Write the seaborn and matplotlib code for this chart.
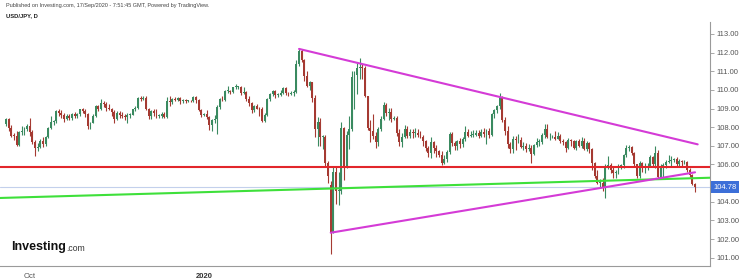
import numpy as np
import pandas as pd
import matplotlib
matplotlib.use("Agg")
import matplotlib.pyplot as plt
import seaborn as sns

# ---------------- data (USD/JPY daily) ----------------
start_date = "2019-09-18"
end_date = "2020-09-17"

opens = [
    108.15,108.43,107.94,107.55,107.53,107.05,107.75,107.80,107.90,
    108.05,107.75,107.18,106.90,106.95,107.25,107.08,107.48,107.95,108.30,108.35,108.85,108.75,108.65,108.45,108.62,108.50,108.70,108.60,108.70,108.95,108.85,108.70,
    108.05,108.20,108.60,109.15,108.95,109.30,109.25,109.05,109.00,108.80,108.45,108.75,108.65,108.60,108.55,108.65,108.68,108.95,109.05,109.55,109.50,
    109.55,109.00,108.60,108.85,108.75,108.60,108.60,108.70,108.55,109.40,109.35,109.50,109.45,109.55,109.40,109.45,109.40,109.40,109.38,109.60,109.45,108.90,
    108.65,108.70,108.55,108.10,108.40,108.45,109.10,109.50,109.45,109.95,109.95,109.90,110.15,110.15,110.15,109.85,109.90,109.50,109.30,108.90,109.15,109.00,108.95,
    108.35,108.65,109.50,109.80,109.95,109.75,109.75,109.85,110.10,109.85,109.78,109.85,109.90,111.40,112.10,111.60,110.75,110.20,110.40,109.55,
    107.90,108.30,107.50,107.50,106.10,104.90,102.35,105.60,104.60,104.60,107.95,105.85,107.60,107.90,110.70,110.80,111.20,111.25,111.20,109.65,107.95,107.80,
    107.55,107.20,107.90,108.45,109.20,108.75,108.80,108.45,108.50,107.70,107.20,107.50,107.90,107.55,107.75,107.70,107.70,107.60,107.50,107.25,106.90,106.60,
    107.20,106.90,106.75,106.50,106.10,106.30,106.65,107.65,107.15,107.00,107.25,107.10,107.35,107.75,107.55,107.60,107.60,107.70,107.55,107.75,107.65,
    107.80,107.60,108.70,108.90,109.15,109.60,108.40,107.80,107.10,106.85,107.35,107.30,107.30,106.95,107.00,106.85,106.90,106.55,107.05,107.20,107.20,107.60,
    107.90,107.45,107.50,107.50,107.35,107.55,107.25,107.20,106.90,107.30,107.25,106.90,107.25,107.00,107.25,106.85,107.15,106.85,106.10,105.40,105.00,105.00,104.75,
    105.85,105.95,105.70,105.55,105.55,105.90,105.95,106.50,106.90,106.95,106.60,106.00,105.40,106.10,105.80,105.80,105.90,106.40,106.00,106.60,105.35,
    105.90,105.95,106.15,106.20,106.25,106.30,106.00,106.20,106.15,106.15,105.70,105.45,104.95,
]
highs = [
    108.48,108.48,108.10,107.70,107.80,107.80,108.05,108.00,108.15,
    108.47,107.85,107.30,107.15,107.35,107.50,107.55,108.00,108.60,108.40,108.90,108.95,108.90,108.75,108.70,108.70,108.75,108.80,108.75,109.00,109.05,108.95,108.75,
    108.30,108.70,109.20,109.20,109.50,109.40,109.35,109.25,109.05,108.90,108.85,108.85,108.80,108.70,108.75,108.75,109.00,109.15,109.60,109.65,109.70,
    109.70,109.05,108.90,108.95,108.95,108.70,108.80,108.80,109.60,109.70,109.55,109.60,109.60,109.60,109.50,109.50,109.45,109.45,109.70,109.65,109.50,108.95,
    108.75,108.90,108.60,108.45,108.65,109.20,109.55,109.70,110.00,110.20,110.00,110.15,110.30,110.20,110.20,110.15,109.95,109.65,109.35,109.20,109.25,109.10,109.10,
    108.75,109.55,109.85,110.00,110.00,109.85,110.00,110.15,110.15,109.90,109.95,110.00,111.60,112.20,112.20,111.65,111.00,110.50,110.45,109.75,
    108.55,108.50,107.60,107.60,106.20,105.10,105.90,105.90,105.60,108.30,108.00,107.80,108.60,111.00,111.00,111.50,111.70,111.40,111.30,109.70,108.40,108.70,
    107.75,108.00,108.60,109.35,109.30,109.05,109.05,108.60,108.60,107.90,107.70,108.10,108.05,107.90,107.90,107.95,107.90,107.80,107.60,107.30,107.00,107.50,
    107.25,107.05,106.80,106.70,106.50,106.80,107.75,107.75,107.25,107.30,107.40,107.50,108.05,107.90,107.80,107.85,107.85,107.85,107.90,107.95,107.90,
    107.95,108.75,108.95,109.20,109.85,109.65,108.55,108.05,107.20,107.55,107.55,107.65,107.50,107.20,107.15,107.10,107.05,107.10,107.40,107.35,107.70,108.15,
    108.15,107.70,107.60,107.80,107.75,107.65,107.35,107.25,107.40,107.35,107.30,107.30,107.35,107.45,107.40,107.25,107.20,106.90,106.15,105.70,105.20,105.30,106.00,
    106.45,106.10,105.85,105.70,106.05,106.05,106.55,107.05,107.05,107.00,106.65,106.05,106.20,106.15,106.10,106.10,106.50,106.45,107.00,106.75,106.00,
    106.10,106.25,106.50,106.45,106.35,106.40,106.30,106.25,106.25,106.20,105.80,105.50,105.00,
]
lows = [
    108.05,107.80,107.50,107.30,107.00,107.00,107.60,107.60,107.80,
    107.55,107.10,106.48,106.70,106.90,106.95,107.00,107.40,107.90,108.10,108.25,108.60,108.50,108.30,108.40,108.40,108.40,108.50,108.50,108.60,108.75,108.55,107.90,
    107.90,108.20,108.55,108.85,108.90,109.10,108.85,108.90,108.60,108.25,108.40,108.50,108.50,108.40,108.25,108.50,108.65,108.85,109.00,109.40,109.45,
    108.90,108.45,108.45,108.60,108.50,108.50,108.50,108.50,108.50,109.15,109.25,109.40,109.40,109.25,109.30,109.30,109.35,109.35,109.35,109.30,108.85,108.55,
    108.60,108.45,107.85,107.80,108.25,107.65,109.00,109.40,109.40,109.85,109.80,109.85,110.05,110.05,109.75,109.80,109.40,109.15,108.75,108.80,108.95,108.60,108.30,
    108.30,108.60,109.40,109.70,109.55,109.60,109.70,109.80,109.75,109.70,109.75,109.70,109.85,111.30,111.50,110.50,110.15,110.00,109.35,107.50,
    107.00,107.00,106.85,105.90,105.00,101.18,102.30,103.90,103.80,104.40,105.15,105.80,106.85,107.80,109.00,109.80,110.60,110.60,109.60,107.85,107.20,107.35,
    106.90,107.00,107.80,108.40,108.60,108.40,108.30,108.40,107.55,107.00,106.95,107.40,107.40,107.40,107.40,107.50,107.45,107.40,107.00,106.70,106.40,106.35,
    106.60,106.40,106.40,105.98,106.05,106.15,106.55,107.00,106.75,106.80,106.90,106.95,107.25,107.50,107.45,107.45,107.55,107.40,107.50,107.50,107.10,
    107.40,107.55,108.50,108.75,109.00,108.30,107.60,106.90,106.60,106.60,106.75,107.15,106.90,106.80,106.65,106.70,106.10,106.50,106.95,107.00,107.10,107.40,
    107.40,107.30,107.40,107.30,107.35,107.15,107.05,106.65,106.85,107.00,106.85,106.80,106.95,106.90,106.80,106.70,106.60,105.70,105.30,104.95,104.75,104.60,104.20,
    105.75,105.55,105.30,105.30,105.50,105.75,105.80,106.40,106.70,106.50,105.90,105.30,105.30,105.60,105.55,105.70,105.85,105.90,105.80,105.25,105.20,
    105.20,105.80,106.10,105.90,106.15,105.90,105.90,105.90,106.05,105.60,105.35,104.90,104.55,
]
closes = [
    108.43,107.94,107.55,107.53,107.05,107.75,107.80,107.90,108.05,
    107.75,107.18,106.90,106.95,107.25,107.08,107.48,107.95,108.30,108.35,108.85,108.75,108.65,108.45,108.62,108.50,108.70,108.60,108.70,108.95,108.85,108.70,108.05,
    108.20,108.60,109.15,108.95,109.30,109.25,109.05,109.00,108.80,108.45,108.75,108.65,108.60,108.55,108.65,108.68,108.95,109.05,109.55,109.50,109.55,
    109.00,108.60,108.85,108.75,108.60,108.60,108.70,108.55,109.40,109.35,109.50,109.45,109.55,109.40,109.45,109.40,109.40,109.38,109.60,109.45,108.90,108.65,
    108.70,108.55,108.10,108.40,108.45,109.10,109.50,109.45,109.95,109.95,109.90,110.15,110.15,110.15,109.85,109.90,109.50,109.30,108.90,109.15,109.00,108.95,108.35,
    108.65,109.50,109.80,109.95,109.75,109.75,109.85,110.10,109.85,109.78,109.85,109.90,111.40,112.10,111.60,110.75,110.20,110.40,109.55,107.90,
    108.30,107.50,107.50,106.10,105.40,102.35,105.60,104.60,104.60,107.95,105.85,107.60,107.90,110.70,110.80,111.20,111.25,111.20,109.65,107.95,107.80,107.55,
    107.20,107.90,108.45,109.20,108.75,108.80,108.45,108.50,107.70,107.20,107.50,107.90,107.55,107.75,107.70,107.70,107.60,107.50,107.25,106.90,106.60,107.20,
    106.90,106.75,106.50,106.10,106.30,106.65,107.65,107.15,107.00,107.25,107.10,107.35,107.75,107.55,107.60,107.60,107.70,107.55,107.75,107.65,107.80,
    107.60,108.70,108.90,109.15,109.60,108.40,107.80,107.10,106.85,107.35,107.30,107.30,106.95,107.00,106.85,106.90,106.55,107.05,107.20,107.20,107.60,107.90,
    107.45,107.50,107.50,107.35,107.55,107.25,107.20,106.90,107.30,107.25,106.90,107.25,107.00,107.25,106.85,107.15,106.85,106.10,105.40,105.00,105.00,104.75,105.85,
    105.95,105.70,105.55,105.55,105.90,105.95,106.50,106.90,106.95,106.60,106.00,105.40,106.10,105.80,105.80,105.90,106.40,106.00,106.60,105.35,105.90,
    105.95,106.15,106.20,106.25,106.30,106.00,106.20,106.15,106.15,105.70,105.45,104.95,104.78,
]

last_price = 104.78
red_level = 105.87
upper_trend_dates = ["2020-02-20", "2020-09-18"]
upper_trend_prices = [112.20, 107.08]
lower_trend_dates = ["2020-03-09", "2020-09-17"]
lower_trend_prices = [102.34, 105.58]
green_trend_dates = ["2019-09-13", "2020-09-25"]
green_trend_prices = [104.20, 105.29]

y_ticks = [101, 102, 103, 104, 105, 106, 107, 108, 109, 110, 111, 112, 113]
month_starts = ["2019-10-01", "2019-11-01", "2019-12-01", "2020-01-01", "2020-02-01",
                "2020-03-01", "2020-04-01", "2020-05-01", "2020-06-01", "2020-07-01",
                "2020-08-01", "2020-09-01"]
month_labels = ["Oct", "", "", "2020", "", "", "", "", "", "", "", ""]

title_text = "Published on Investing.com, 17/Sep/2020 - 7:51:45 GMT, Powered by TradingView."
symbol_text = "USD/JPY, D"

# ---------------- style ----------------
sns.set_style("white")
plt.rcParams["font.family"] = ["Liberation Sans", "DejaVu Sans"]

UP = "#3a8a60"
DOWN = "#a53a32"

cal = pd.bdate_range("2019-09-02", "2020-10-30")
origin = cal.searchsorted(pd.Timestamp(start_date))


def xpos(d):
    return cal.searchsorted(pd.Timestamp(d)) - origin


days = pd.bdate_range(start_date, end_date)
df = pd.DataFrame({"date": days, "open": opens, "high": highs, "low": lows, "close": closes})
df["x"] = [xpos(d) for d in df["date"]]
df["up"] = df["close"] >= df["open"]

fig = plt.figure(figsize=(7.4, 2.8), dpi=100)
ax = fig.add_axes([0.0, 14 / 280, 710 / 740, 244 / 280])

colors = np.where(df["up"], UP, DOWN)
ax.vlines(df["x"], np.minimum(df["low"], np.minimum(df["open"], df["close"])),
          np.maximum(df["high"], np.maximum(df["open"], df["close"])),
          colors=colors, lw=0.8, zorder=2)
body_bottom = np.minimum(df["open"], df["close"])
body_h = np.maximum(np.abs(df["close"] - df["open"]), 0.04)
ax.bar(df["x"], body_h, bottom=body_bottom, width=0.74, color=colors, lw=0, zorder=2)

# horizontal levels
ax.axhline(last_price, color="#c3d0ec", lw=0.8, zorder=1)
ax.axhline(red_level, color="#e2262b", lw=1.5, zorder=3)

# trend lines
tl = [
    (green_trend_dates, green_trend_prices, "#3ee03a"),
    (upper_trend_dates, upper_trend_prices, "#d43bd6"),
    (lower_trend_dates, lower_trend_prices, "#d43bd6"),
]
for dates, prices, col in tl:
    sns.lineplot(x=[xpos(d) for d in dates], y=prices, ax=ax, color=col, lw=1.5, zorder=4)

ax.set_xlim(-6 / 2.64, (710 - 6) / 2.64)
ax.set_ylim(113 - 244 / 18.64 + 12 / 18.64, 113 + 12 / 18.64)

# axes styling
for s in ["top", "left"]:
    ax.spines[s].set_visible(False)
for s in ["right", "bottom"]:
    ax.spines[s].set_color("#9a9a9a")
    ax.spines[s].set_linewidth(0.8)
ax.yaxis.tick_right()
ax.set_yticks(y_ticks)
ax.set_yticklabels([f"{v:.2f}" for v in y_ticks])
ax.tick_params(axis="y", direction="out", length=3, width=0.6, color="#9a9a9a",
               labelsize=5.5, labelcolor="#555555", pad=2)
ax.set_xticks([xpos(d) for d in month_starts])
ax.set_xticklabels(month_labels)
ax.tick_params(axis="x", direction="out", length=3, width=0.6, color="#9a9a9a",
               labelsize=5.5, labelcolor="#555555", pad=2)
for lab in ax.get_xticklabels():
    if lab.get_text() == "2020":
        lab.set_fontweight("bold")
        lab.set_color("#333333")
ax.set_xlabel("")
ax.set_ylabel("")
ax.grid(False)

# last price tag
ax.text(1.005, last_price, f"{last_price:.2f}", transform=ax.get_yaxis_transform(),
        ha="left", va="center", fontsize=5.5, color="white", clip_on=False, zorder=10,
        bbox=dict(boxstyle="square,pad=0.3", fc="#3c6fd8", ec="none"))

# header texts
fig.text(6 / 740, 1 - 6 / 280, title_text, fontsize=4.0, color="#444444", va="center", ha="left")
fig.text(6 / 740, 1 - 16 / 280, symbol_text, fontsize=4.2, color="#222222", va="center",
         ha="left", fontweight="bold")

# logo
t = fig.text(11 / 740, 1 - 250 / 280, "Investing", fontsize=9, fontweight="bold",
             color="#111111", va="baseline", ha="left")
ax.annotate(".com", xy=(1, 0), xycoords=t, xytext=(0.3, 0), textcoords="offset points",
            fontsize=6.2, color="#333333", va="bottom", ha="left", annotation_clip=False)

fig.savefig("out.png", dpi=100)
